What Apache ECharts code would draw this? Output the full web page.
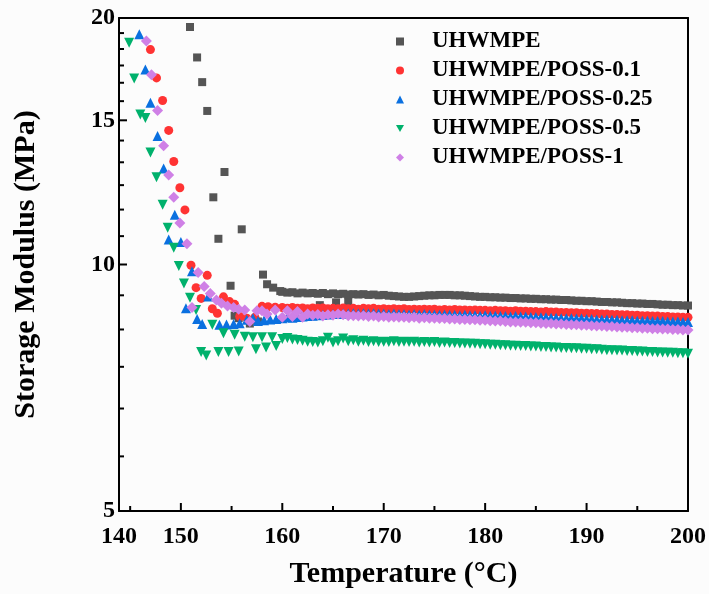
<!DOCTYPE html>
<html>
<head>
<meta charset="utf-8" />
<title>Storage Modulus</title>
<style>
html, body { margin: 0; padding: 0; background: #fcfcfc; }
#chart { width: 709px; height: 594px; }
</style>
</head>
<body>
<div id="chart"></div>
<script src="https://cdn.jsdelivr.net/npm/echarts@6/dist/echarts.min.js"></script>
<script>
// series names (legend)
var names = ['UHWMPE', 'UHWMPE/POSS-0.1', 'UHWMPE/POSS-0.25', 'UHWMPE/POSS-0.5', 'UHWMPE/POSS-1'];

// tick labels
var xLabels = [150, 160, 170, 180, 190, 200];
var xMinorTicks = [145, 155, 165, 175, 185, 195];
var yLabels = [5, 10, 15, 20];
var yMinorTicks = [5.83, 6.67, 7.5, 8.33, 9.17, 10.83, 11.67, 12.5, 13.33, 14.17, 15.83, 16.67, 17.5, 18.33, 19.17];

// softening region, [temperature, MPa]
var dropPE = [[150.9,19.5],[151.6,17.9],[152.1,16.7],[152.6,15.4],[154.3,12.97],[153.2,12.08],[156.0,11.04],[153.7,10.75],
  [158.1,9.72],[154.9,9.42],[155.3,8.66],[155.7,8.6],[156.8,8.47],[157.6,8.52],[158.5,9.46],[159.1,9.37],[159.8,9.28],
  [161.7,8.8],[163.7,8.92],[165.3,8.99],[166.5,9.02]];
var dropP01 = [[147.0,18.3],[147.6,16.9],[148.2,15.86],[148.8,14.58],[149.3,13.36],[149.9,12.41],[150.4,11.66],[151.0,9.98],
  [151.5,9.37],[152.0,9.09],[152.6,9.7],[153.1,8.83],[153.6,8.72],[154.2,9.13],[154.8,9.01],[155.3,8.94],[155.8,8.64],
  [156.5,8.6],[157.3,8.62],[158.0,8.89],[158.6,8.88],[159.3,8.87]];
var dropP025 = [[145.9,19.1],[146.5,17.3],[147.0,15.76],[147.7,14.35],[148.3,13.1],[148.8,10.73],[149.4,11.5],[150.0,10.65],
  [151.1,9.81],[150.5,8.84],[151.6,8.58],[152.1,8.46],[152.7,9.14],[153.8,8.44],[154.5,8.45],[155.2,8.46],[155.8,8.48],
  [156.5,8.56],[157.1,8.6],[157.6,8.53],[158.2,8.55],[158.8,8.57],[159.4,8.58]];
var dropP05 = [[144.9,18.66],[145.4,16.87],[146.0,15.25],[146.5,15.1],[147.0,13.7],[147.6,12.78],[148.2,11.83],[148.7,11.09],
  [149.3,10.48],[149.8,9.96],[150.3,9.48],[150.9,9.11],[151.5,8.8],[153.1,8.44],[154.2,8.24],[155.3,8.21],[156.3,8.16],
  [157.1,8.15],[158.0,8.15],[159.0,8.15],[152.0,7.82],[152.5,7.74],[153.7,7.82],[154.7,7.82],[155.7,7.83],[157.4,7.88],
  [158.4,7.92],[159.4,7.95]];
var dropP1 = [[146.6,18.75],[147.1,17.05],[147.7,15.42],[148.3,13.96],[148.8,12.86],[149.3,12.08],[149.9,11.24],[150.6,10.6],
  [151.7,9.78],[152.3,9.4],[152.9,9.22],[151.1,8.86],[153.5,9.05],[154.0,8.97],[154.6,8.9],[155.2,8.86],[155.7,8.82],
  [156.3,8.8],[156.8,8.52],[157.5,8.78],[158.0,8.78],[158.5,8.7],[159.3,8.8]];

// plateau region temperatures shared by all samples
var plateauT = [160,160.5,161,161.5,162,162.5,163,163.5,164,164.5,165,165.5,166,166.5,167,167.5,168,168.5,169,169.5,
  170,170.5,171,171.5,172,172.5,173,173.5,174,174.5,175,175.5,176,176.5,177,177.5,178,178.5,179,179.5,
  180,180.5,181,181.5,182,182.5,183,183.5,184,184.5,185,185.5,186,186.5,187,187.5,188,188.5,189,189.5,
  190,190.5,191,191.5,192,192.5,193,193.5,194,194.5,195,195.5,196,196.5,197,197.5,198,198.5,199,199.5,200];

var plateauPE = [9.26,9.24,9.25,9.22,9.24,9.22,9.23,9.21,9.23,9.2,9.22,9.2,9.21,9.19,9.2,9.19,9.2,9.18,9.19,9.17,
  9.18,9.16,9.15,9.14,9.13,9.13,9.14,9.15,9.16,9.17,9.17,9.18,9.18,9.18,9.17,9.17,9.16,9.15,9.14,9.13,
  9.13,9.12,9.12,9.11,9.11,9.1,9.1,9.09,9.09,9.08,9.08,9.07,9.07,9.06,9.06,9.05,9.05,9.04,9.03,9.03,
  9.02,9.02,9.01,9.0,9.0,8.99,8.99,8.98,8.97,8.97,8.96,8.96,8.95,8.95,8.94,8.93,8.93,8.92,8.92,8.91,8.91];
var plateauP01 = [8.86,8.84,8.86,8.84,8.85,8.83,8.85,8.84,8.85,8.83,8.84,8.83,8.85,8.83,8.84,8.82,8.84,8.83,8.84,8.82,
  8.83,8.82,8.83,8.82,8.83,8.81,8.82,8.81,8.82,8.81,8.82,8.8,8.81,8.8,8.81,8.8,8.8,8.79,8.8,8.79,
  8.79,8.78,8.79,8.78,8.78,8.77,8.78,8.77,8.77,8.76,8.76,8.75,8.76,8.75,8.75,8.74,8.74,8.73,8.73,8.72,
  8.72,8.71,8.71,8.7,8.7,8.69,8.69,8.68,8.68,8.67,8.67,8.66,8.66,8.65,8.65,8.64,8.64,8.63,8.63,8.62,8.62];
var plateauP025 = [8.6,8.62,8.61,8.63,8.64,8.65,8.66,8.67,8.68,8.69,8.7,8.7,8.71,8.71,8.72,8.71,8.72,8.71,8.72,8.71,
  8.71,8.7,8.71,8.7,8.7,8.69,8.7,8.69,8.7,8.69,8.69,8.68,8.69,8.68,8.68,8.67,8.68,8.67,8.67,8.66,
  8.67,8.66,8.66,8.65,8.65,8.64,8.65,8.64,8.64,8.63,8.63,8.62,8.62,8.61,8.61,8.6,8.6,8.6,8.59,8.59,
  8.58,8.58,8.57,8.57,8.57,8.56,8.56,8.55,8.55,8.55,8.54,8.54,8.54,8.53,8.53,8.53,8.52,8.52,8.52,8.51,8.51];
var plateauP05 = [8.11,8.13,8.1,8.09,8.07,8.05,8.04,8.03,8.06,8.14,8.03,8.06,8.12,8.06,8.08,8.05,8.07,8.04,8.06,8.04,
  8.05,8.04,8.06,8.04,8.05,8.04,8.05,8.03,8.04,8.03,8.04,8.02,8.03,8.02,8.02,8.01,8.01,8.0,8.0,7.99,
  7.99,7.98,7.98,7.97,7.97,7.96,7.96,7.95,7.95,7.94,7.94,7.93,7.93,7.92,7.92,7.91,7.91,7.9,7.9,7.89,
  7.89,7.88,7.88,7.87,7.86,7.86,7.85,7.85,7.84,7.84,7.83,7.83,7.82,7.82,7.81,7.81,7.8,7.8,7.79,7.79,7.78];
var plateauP1 = [8.62,8.78,8.64,8.76,8.62,8.7,8.67,8.69,8.65,8.68,8.67,8.7,8.68,8.66,8.66,8.65,8.66,8.64,8.65,8.63,
  8.64,8.62,8.63,8.62,8.62,8.61,8.62,8.6,8.61,8.6,8.6,8.59,8.59,8.58,8.58,8.57,8.57,8.56,8.56,8.55,
  8.55,8.54,8.53,8.53,8.52,8.51,8.51,8.5,8.5,8.49,8.49,8.48,8.47,8.47,8.46,8.46,8.45,8.44,8.44,8.43,
  8.43,8.42,8.41,8.41,8.4,8.4,8.39,8.38,8.38,8.37,8.37,8.36,8.36,8.35,8.35,8.34,8.34,8.33,8.33,8.32,8.32];

var colors = ['#555555', '#ff3333', '#0a70e0', '#00b16c', '#cf80e6'];
var symbols = ['rect', 'circle', 'triangle', 'triangle', 'diamond'];
var legendIcons = ['rect', 'circle', 'triangle', 'path://M0,0 L10,0 L5,8.66 Z', 'diamond'];
var rotates = [0, 0, 0, 180, 0];
var sizes = [8, 9, 10, 10, 11];
var drops = [dropPE, dropP01, dropP025, dropP05, dropP1];
var plateaus = [plateauPE, plateauP01, plateauP025, plateauP05, plateauP1];

var xMin = 143.9;
var yMin = 5;
var font = '"Liberation Serif", "Times New Roman", serif';

function joinData(drop, plateau) {
  var res = drop.slice();
  for (var i = 0; i < plateauT.length; i++) {
    res.push([plateauT[i], plateau[i]]);
  }
  return res;
}

var series = [];
var legendData = [];
for (var i = 0; i < names.length; i++) {
  series.push({
    name: names[i],
    type: 'scatter',
    symbol: symbols[i],
    symbolRotate: rotates[i],
    symbolSize: sizes[i],
    itemStyle: { color: colors[i], opacity: 1 },
    emphasis: { disabled: true },
    data: joinData(drops[i], plateaus[i])
  });
  legendData.push({ name: names[i], icon: legendIcons[i] });
}

// inward tick marks as thin rect symbols sitting on the axes
function tickSeries(vals, isX, len) {
  var data = [];
  for (var k = 0; k < vals.length; k++) {
    data.push(isX ? [vals[k], yMin] : [xMin, vals[k]]);
  }
  return {
    type: 'scatter',
    silent: true,
    clip: false,
    z: 5,
    symbol: 'rect',
    symbolSize: isX ? [2, len] : [len, 2],
    symbolOffset: isX ? [0, -len / 2] : [len / 2, 0],
    itemStyle: { color: '#000', opacity: 1 },
    emphasis: { disabled: true },
    data: data
  };
}
series.push(tickSeries(xLabels, true, 8));
series.push(tickSeries(xMinorTicks, true, 5));
series.push(tickSeries(yLabels.slice(1, 3), false, 8));
series.push(tickSeries(yMinorTicks, false, 5));

function frameLine() {
  return { show: true, onZero: false, lineStyle: { color: '#000', width: 2 } };
}
function xAx(opt) {
  return Object.assign({
    type: 'value', min: xMin, max: 200, position: 'bottom',
    axisLine: { show: false }, axisTick: { show: false }, axisLabel: { show: false }, splitLine: { show: false }
  }, opt);
}
function yAx(opt) {
  return Object.assign({
    type: 'log', logBase: 10, min: yMin, max: 20, position: 'left',
    axisLine: { show: false }, axisTick: { show: false }, axisLabel: { show: false }, splitLine: { show: false }
  }, opt);
}

var myChart = echarts.init(document.getElementById('chart'));
var option = {
  backgroundColor: '#fcfcfc',
  animation: false,
  textStyle: { fontFamily: font },
  grid: { left: 119, right: 20, top: 18, bottom: 81, show: false },
  legend: {
    orient: 'vertical',
    left: 391,
    top: 25,
    itemWidth: 8,
    itemHeight: 8,
    itemGap: 6,
    textStyle: { fontFamily: font, fontWeight: 'bold', fontSize: 23, color: '#000', lineHeight: 23, padding: [0, 0, 0, 23] },
    data: legendData
  },
  xAxis: [
    xAx({
      name: 'Temperature (°C)',
      nameLocation: 'middle',
      nameGap: 48,
      nameTextStyle: { fontFamily: font, fontWeight: 'bold', fontSize: 30, color: '#000' },
      axisLine: frameLine(),
      axisLabel: {
        show: true,
        margin: 14,
        fontFamily: font, fontWeight: 'bold', fontSize: 24, color: '#000',
        customValues: [xMin].concat(xLabels),
        formatter: function (v) { return v === xMin ? '140' : String(v); }
      }
    }),
    xAx({ position: 'top', axisLine: frameLine() })
  ],
  yAxis: [
    yAx({
      name: 'Storage Modulus (MPa)',
      nameLocation: 'middle',
      nameGap: 78,
      nameTextStyle: { fontFamily: font, fontWeight: 'bold', fontSize: 30, color: '#000' },
      axisLine: frameLine(),
      axisLabel: {
        show: true,
        margin: 4,
        fontFamily: font, fontWeight: 'bold', fontSize: 24, color: '#000',
        customValues: yLabels
      }
    }),
    yAx({ position: 'right', axisLine: frameLine() })
  ],
  series: series
};
myChart.setOption(option);
</script>
</body>
</html>
